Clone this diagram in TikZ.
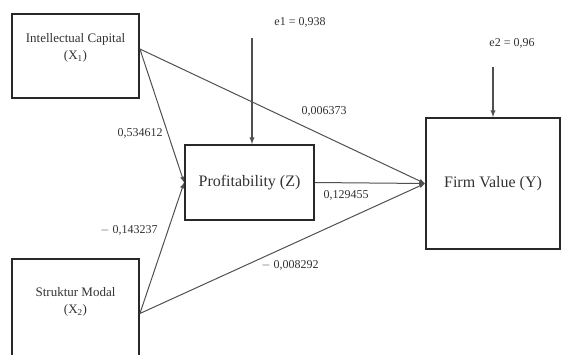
\documentclass[tikz,border=0pt]{standalone}
\usepackage{fontspec}
\setmainfont{Liberation Serif}
\usetikzlibrary{positioning}
\definecolor{linegray}{RGB}{80,80,80}
\definecolor{boxgray}{RGB}{40,40,40}
\definecolor{textgray}{RGB}{50,50,50}

\begin{document}
\begin{tikzpicture}[x=1pt, y=-1pt, >=latex,
            every node/.style={text=textgray},
            var/.style={draw=boxgray, line width=1.8pt, rectangle, align=center, inner sep=0pt},
            vartext/.style={align=center, font=\fontsize{13}{17}\selectfont},
            path/.style={->, draw=linegray, line width=1pt},
            coef/.style={font=\fontsize{12}{14}\selectfont}]

            \useasboundingbox (0,0) rectangle (561,354);

            % Variabel independen
            \node[var, minimum width=127pt, minimum height=84pt] (x1) at (75.5,56) {};
            \node[vartext] (x1txt) at ([yshift=8pt]x1.center) {Intellectual Capital\\(X\textsubscript{1})};
            \node[var, minimum width=127pt, minimum height=103pt] (x2) at (75.5,310.5) {};
            \node[vartext] (x2txt) at ([yshift=9pt]x2.center) {Struktur Modal\\(X\textsubscript{2})};

            % Variabel intervening dan dependen
            \node[var, minimum width=129pt, minimum height=75pt, font=\fontsize{16}{19}\selectfont] (prof) at (249.5,182.5) {Profitability (Z)};
            \node[var, minimum width=134pt, minimum height=131pt, font=\fontsize{16}{19}\selectfont] (fv) at (493,183.5) {Firm Value (Y)};

            % Error
            \coordinate (e1s) at (252,38);
            \coordinate (e2s) at (493,67);
            \node[coef] (e1) at (300,22) {e1 = 0,938};
            \node[coef] (e2) at (512,43) {e2 = 0,96};

            % Panah
            \draw[path] ([yshift=7pt]x1.east) -- (prof.west);
            \draw[path] ([yshift=7pt]x1.east) -- (fv.west);
            \draw[path] ([yshift=-3pt]x2.east) -- (prof.west);
            \draw[path] ([yshift=-3pt]x2.east) -- (fv.west);
            \draw[path] (prof.east) -- (fv.west);
            \draw[path, line width=1.3pt] (e1s) -- (e1s |- prof.north);
            \draw[path, line width=1.3pt] (e2s) -- (e2s |- fv.north);

            % Koefisien
            \node[coef] (c1) at (140,133) {0,534612};
            \node[coef] (c2) at (129,230) {$-$ 0,143237};
            \node[coef] (c3) at (324,111) {0,006373};
            \node[coef] (c4) at (346,195) {0,129455};
            \node[coef] (c5) at (290,265) {$-$ 0,008292};

        \end{tikzpicture}
\end{document}
